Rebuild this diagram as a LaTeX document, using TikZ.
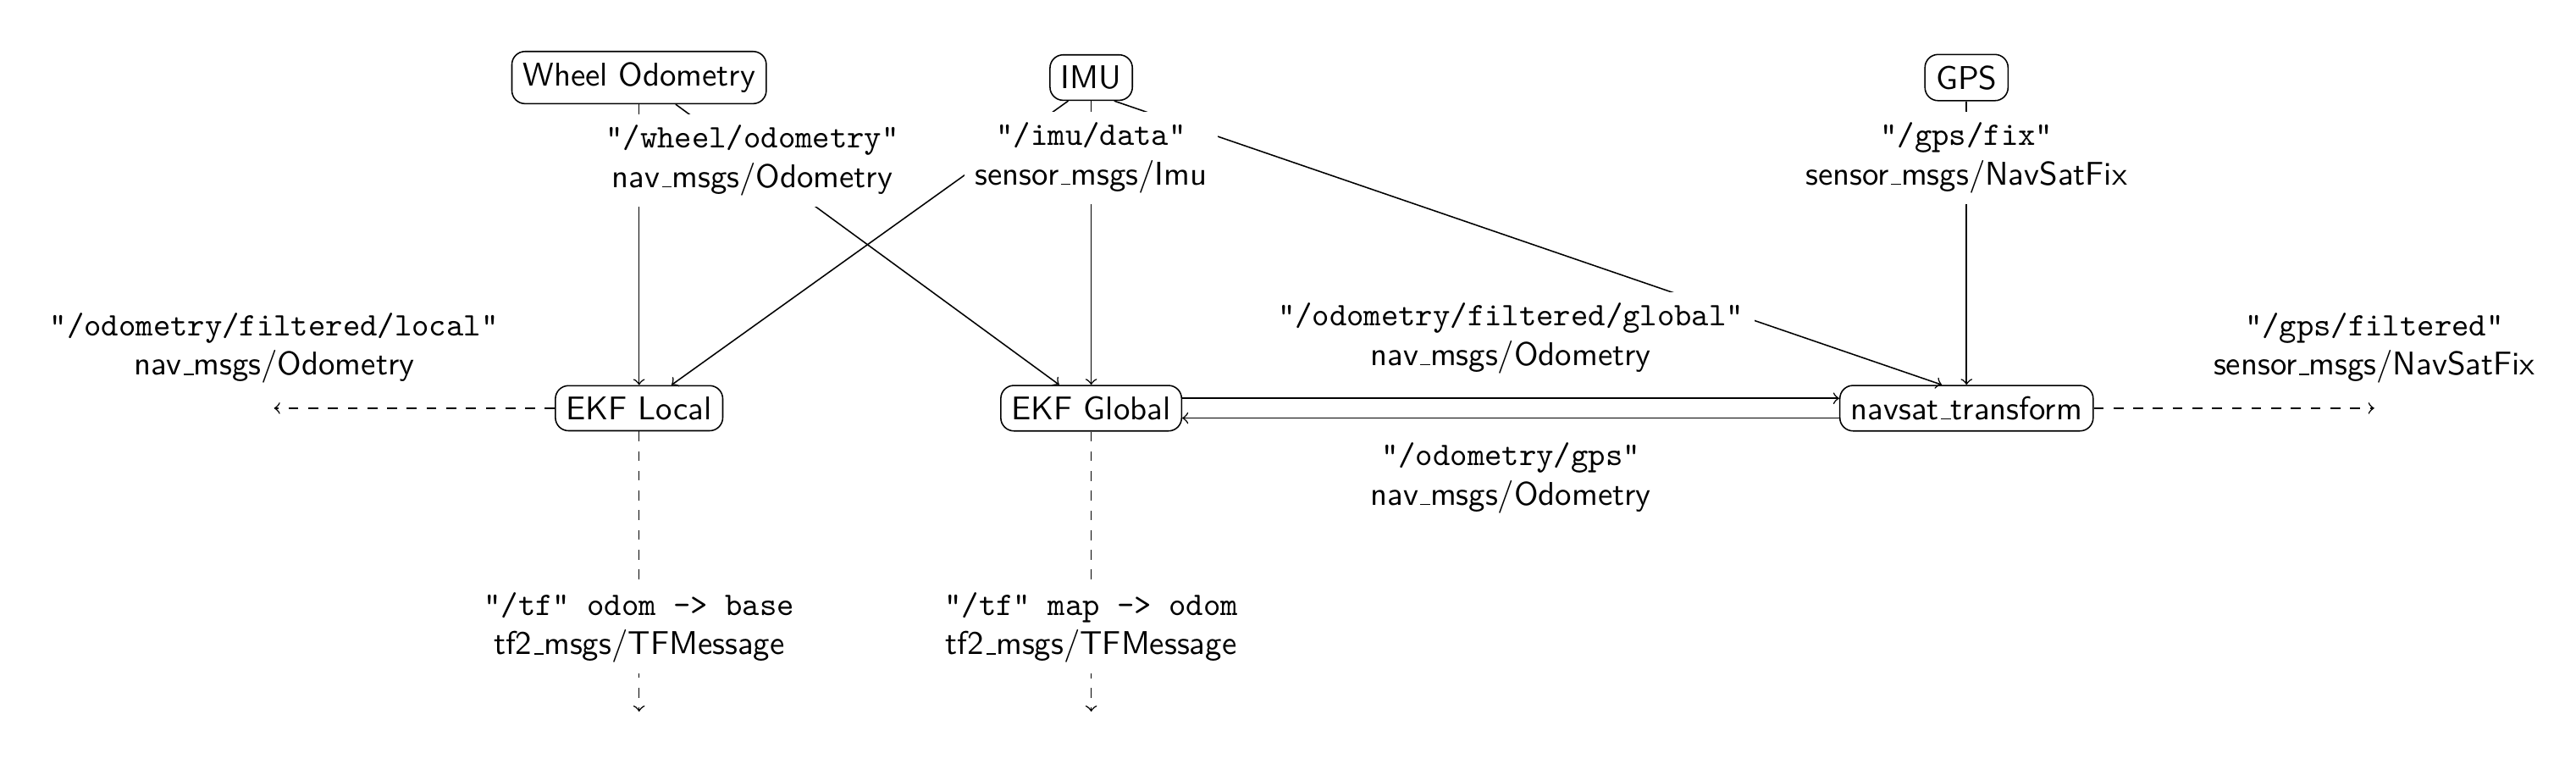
\documentclass[tikz,border=0pt]{standalone}
\usepackage{tikz}
\usetikzlibrary{positioning}
\usepackage{amsmath}
\usepackage{amssymb}

% guion bajo corto
\newcommand{\bajo}{\leavevmode\kern.06em\vbox{\hrule width.3em}}

\begin{document}
\begin{tikzpicture}[font=\sffamily, on grid,
		caja/.style={draw, rounded corners},
		etiqueta/.style={fill=white, align=center}]
		\useasboundingbox (0,0) rectangle (784pt,-237.6pt);

			% nodos
			\node [caja] (wheel) at (194.5pt,-23.6pt) {Wheel Odometry};
			\node [caja] (imu) [right=137.6pt of wheel] {IMU};
			\node [caja] (gps) [right=266.4pt of imu] {GPS};
			\node [caja] (ekflocal) [below=100.6pt of wheel] {EKF Local};
			\node [caja] (ekfglobal) [below=100.6pt of imu] {EKF Global};
			\node [caja] (navsat) [below=100.6pt of gps] {navsat\bajo transform};

			% salidas
			\coordinate [left=111.1pt of ekflocal] (localout);
			\coordinate [right=124.1pt of navsat] (gpsout);
			\coordinate [below=92.3pt of ekflocal] (tflocal);
			\coordinate [below=92.3pt of ekfglobal] (tfglobal);

			% transiciones
			\path[->]
			(wheel) edge (ekflocal)
			([xshift=-7pt]imu.south) edge (ekflocal)
			([xshift=7pt]imu.south) edge ([xshift=-7.5pt]navsat.north)
			(wheel) edge node [etiqueta, pos=0.2] (wheeltopic) {\texttt{"/wheel/odometry"}\\nav\bajo msgs/Odometry} (ekfglobal)
			(imu) edge node [etiqueta, pos=0.2] (imutopic) {\texttt{"/imu/data"}\\sensor\bajo msgs/Imu} (ekfglobal)
			(gps) edge node [etiqueta, pos=0.2] (gpstopic) {\texttt{"/gps/fix"}\\sensor\bajo msgs/NavSatFix} (navsat)
			([yshift=3pt]ekfglobal.east) edge node [etiqueta, above=4pt] (globaltopic) {\texttt{"/odometry/filtered/global"}\\nav\bajo msgs/Odometry} ([yshift=3pt]navsat.west)
			([yshift=-3pt]navsat.west) edge node [etiqueta, below=4pt] (odomgpstopic) {\texttt{"/odometry/gps"}\\nav\bajo msgs/Odometry} ([yshift=-3pt]ekfglobal.east);

			% publicaciones
			\path[->, dashed]
			(ekflocal) edge node [etiqueta, pos=1, above=4pt] (localtopic) {\texttt{"/odometry/filtered/local"}\\nav\bajo msgs/Odometry} (localout)
			(navsat) edge node [etiqueta, pos=1, above=4pt] (filteredtopic) {\texttt{"/gps/filtered"}\\sensor\bajo msgs/NavSatFix} (gpsout)
			(ekflocal) edge node [etiqueta, pos=0.7] (tflocaltopic) {\texttt{"/tf" odom -> base}\\tf2\bajo msgs/TFMessage} (tflocal)
			(ekfglobal) edge node [etiqueta, pos=0.7] (tfglobaltopic) {\texttt{"/tf" map -> odom}\\tf2\bajo msgs/TFMessage} (tfglobal);
\end{tikzpicture}
\end{document}
